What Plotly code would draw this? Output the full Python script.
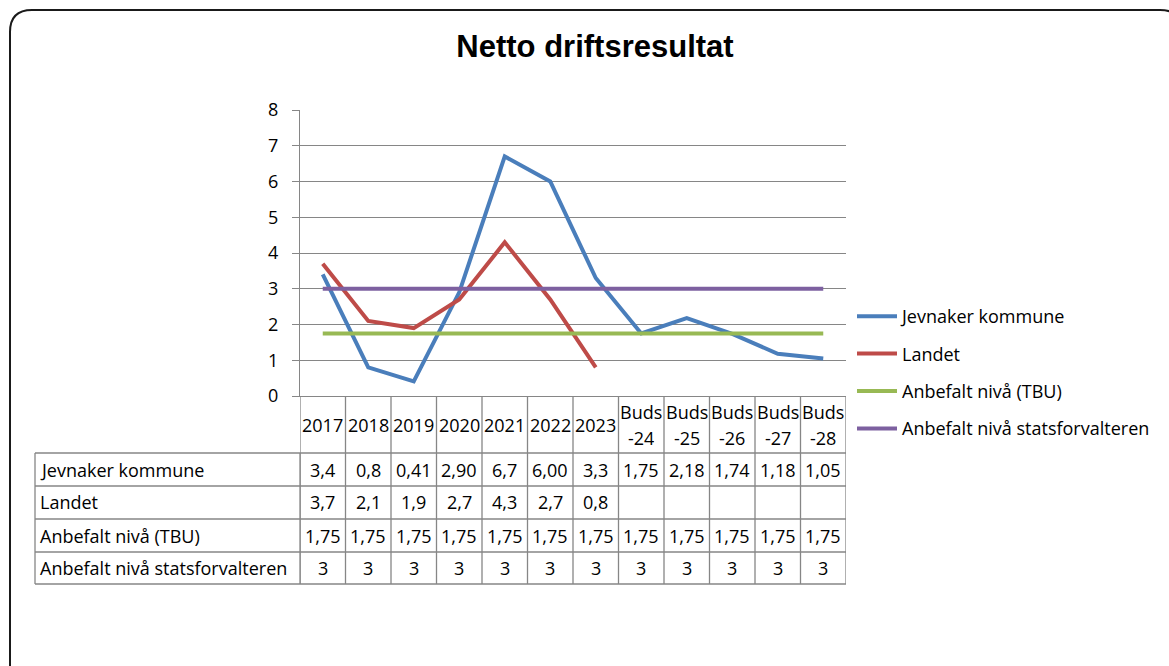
import plotly.graph_objects as go

# ---------------- data ----------------
categories = ["2017", "2018", "2019", "2020", "2021", "2022", "2023",
              "Buds\n-24", "Buds\n-25", "Buds\n-26", "Buds\n-27", "Buds\n-28"]
series_names = ["Jevnaker kommune", "Landet", "Anbefalt nivå (TBU)",
                "Anbefalt nivå statsforvalteren"]
jevnaker_txt = ["3,4", "0,8", "0,41", "2,90", "6,7", "6,00", "3,3",
                "1,75", "2,18", "1,74", "1,18", "1,05"]
landet_txt = ["3,7", "2,1", "1,9", "2,7", "4,3", "2,7", "0,8",
              "", "", "", "", ""]
tbu_txt = ["1,75"] * 12
statsf_txt = ["3"] * 12
series_txt = [jevnaker_txt, landet_txt, tbu_txt, statsf_txt]
colors = ["#4A7EBB", "#BE4B48", "#98B954", "#7D60A0"]
y_ticks = [0, 1, 2, 3, 4, 5, 6, 7, 8]
title = "Netto driftsresultat"


def to_num(s):
    return float(s.replace(",", ".")) if s else None


W, H = 1169, 666
FONT = "Open Sans"
FS = 18
GRID = "#868686"


def px(x):
    return x / W


def py(y):
    return 1 - y / H


x_idx = list(range(len(categories)))

fig = go.Figure()
for name, txt, col in zip(series_names, series_txt, colors):
    fig.add_trace(go.Scatter(
        x=x_idx, y=[to_num(s) for s in txt], name=name, mode="lines",
        line=dict(color=col, width=4), connectgaps=False,
        legendgroup=name))

# plot geometry
X0, X1 = 300, 846
Y_TOP, Y_BOT = 110, 396
ROW_EDGES = [396, 453, 486, 519, 552, 584]
LABEL_X0 = 35

shapes = []
# table vertical column borders (data coords on x)
for k in range(len(categories) + 1):
    shapes.append(dict(type="line", xref="x", yref="paper",
                       x0=k - 0.5, x1=k - 0.5,
                       y0=py(ROW_EDGES[0]), y1=py(ROW_EDGES[-1]),
                       line=dict(color=GRID, width=1.3)))
# left label column borders
shapes.append(dict(type="line", xref="paper", yref="paper",
                   x0=px(LABEL_X0), x1=px(LABEL_X0),
                   y0=py(ROW_EDGES[1]), y1=py(ROW_EDGES[-1]),
                   line=dict(color=GRID, width=1.3)))
shapes.append(dict(type="line", xref="paper", yref="paper",
                   x0=px(X0), x1=px(X0),
                   y0=py(ROW_EDGES[1]), y1=py(ROW_EDGES[-1]),
                   line=dict(color=GRID, width=1.3)))
# horizontal row borders
for e in ROW_EDGES[1:]:
    shapes.append(dict(type="line", xref="paper", yref="paper",
                       x0=px(LABEL_X0), x1=px(X1),
                       y0=py(e), y1=py(e),
                       line=dict(color=GRID, width=1.3)))

# outer rounded border
xl, xr, yt, yb = px(10), px(1182), py(10), py(700)
rx, ry = px(22), 22 / H
path = (f"M {xl},{yb} L {xl},{yt - ry} Q {xl},{yt} {xl + rx},{yt} "
        f"L {xr - rx},{yt} Q {xr},{yt} {xr},{yt - ry} L {xr},{yb}")
shapes.append(dict(type="path", xref="paper", yref="paper", path=path,
                   line=dict(color="#1a1a1a", width=2)))

annotations = []
txt_font = dict(family=FONT, size=FS, color="black")
# header (category) labels
for i, c in enumerate(categories):
    parts = c.split("\n")
    if len(parts) == 1:
        annotations.append(dict(x=i, y=py(425), xref="x", yref="paper",
                                text=parts[0], showarrow=False,
                                xanchor="center", yanchor="middle",
                                font=txt_font))
    else:
        for j, p in enumerate(parts):
            annotations.append(dict(x=i, y=py(412 + 26 * j), xref="x",
                                    yref="paper", text=p, showarrow=False,
                                    xanchor="center", yanchor="middle",
                                    height=22, font=txt_font))
# table body
for r, (name, txt) in enumerate(zip(series_names, series_txt)):
    yc = (ROW_EDGES[r + 1] + ROW_EDGES[r + 2]) / 2
    annotations.append(dict(x=px(LABEL_X0 + 3), y=py(yc), xref="paper",
                            yref="paper", text=name, showarrow=False,
                            xanchor="left", yanchor="middle",
                            font=txt_font))
    for i, s in enumerate(txt):
        if s:
            annotations.append(dict(x=i, y=py(yc), xref="x", yref="paper",
                                    text=s, showarrow=False,
                                    xanchor="center", yanchor="middle",
                                    font=txt_font))

fig.update_layout(
    template="none",
    width=W, height=H, autosize=False,
    margin=dict(l=0, r=0, t=0, b=0, pad=0),
    paper_bgcolor="white", plot_bgcolor="white",
    title=dict(text=f"<b>{title}</b>", x=595 / W, xanchor="center",
               y=py(46), yanchor="middle",
               font=dict(family="Liberation Sans", size=31, color="black")),
    xaxis=dict(domain=[px(X0), px(X1)], range=[-0.5, len(categories) - 0.5],
               showticklabels=False, showgrid=False, zeroline=False,
               showline=True, linecolor=GRID, linewidth=1.3, ticks="",
               automargin=False, fixedrange=True),
    yaxis=dict(domain=[py(Y_BOT), py(Y_TOP)], range=[0, 8],
               tickvals=y_ticks, showgrid=True, gridcolor=GRID, gridwidth=1.3,
               zeroline=False, showline=True, linecolor=GRID, linewidth=1.3,
               ticks="outside", ticklen=7, tickcolor=GRID, tickwidth=1.3,
               ticklabelstandoff=10, automargin=False,
               tickfont=dict(family=FONT, size=18, color="black"),
               fixedrange=True),
    showlegend=True,
    legend=dict(x=px(852), y=py(298), xanchor="left", yanchor="top",
                font=dict(family=FONT, size=FS, color="black"),
                tracegroupgap=11, itemwidth=40, bgcolor="rgba(0,0,0,0)",
                borderwidth=0),
    shapes=shapes, annotations=annotations,
)

fig.write_html("out.html", config={"displayModeBar": False},
               post_script="document.body.style.margin='0';"
                           "document.body.style.overflow='hidden';")
